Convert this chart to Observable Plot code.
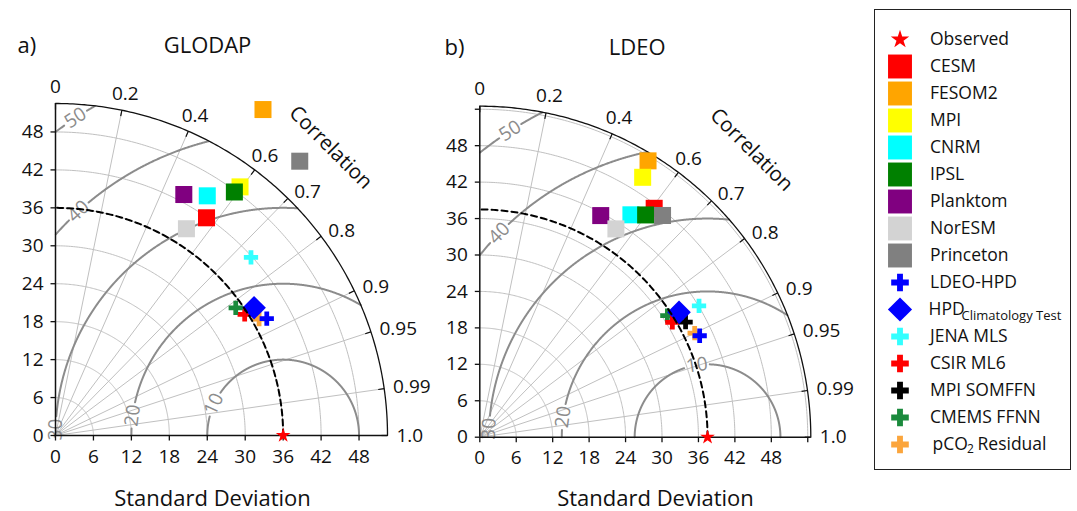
<!DOCTYPE html>
<html><head><meta charset="utf-8">
<script src="https://cdn.jsdelivr.net/npm/d3@7"></script>
<script src="https://cdn.jsdelivr.net/npm/@observablehq/plot@0.6"></script>
<style>
body{margin:0;background:#fff;}
#root{position:relative;width:1077px;height:511px;overflow:hidden;}
#pa{position:absolute;left:0;top:0;}
#pb{position:absolute;left:430px;top:0;}
#leg{position:absolute;left:874px;top:9px;border:1.5px solid #222;background:#fff;}
svg{overflow:visible;}
</style></head><body>
<div id="root"><div id="pa"></div><div id="pb"></div><div id="leg"></div></div>
<script>
// ---- data ----
const names = ["Observed","CESM","FESOM2","MPI","CNRM","IPSL","Planktom","NorESM","Princeton","LDEO-HPD","HPD","JENA MLS","CSIR ML6","MPI SOMFFN","CMEMS FFNN","pCO2 Residual"];
const colors = ["#ff0000","#ff0000","#ffa500","#ffff00","#00ffff","#008000","#800080","#d3d3d3","#808080","#0000ff","#0000ff","#33ffff","#ff0000","#000000","#1a8a3c","#fba53c"];
const shapes = ["star","square","square","square","square","square","square","square","square","cross","diamond","cross","cross","cross","cross","cross"];
// GLODAP panel: standard deviation and correlation
const stdA  = [36.0, 41.90, 61.10, 48.96, 44.86, 47.78, 43.17, 38.70, 58.08, 38.18, 37.34, 41.83, 35.53, 36.89, 34.93, 37.09];
const corrA = [1.000, 0.570, 0.537, 0.596, 0.535, 0.592, 0.470, 0.535, 0.665, 0.875, 0.841, 0.739, 0.842, 0.840, 0.816, 0.868];
// LDEO panel
const stdB  = [37.5, 47.38, 53.27, 50.50, 44.27, 45.66, 41.57, 40.97, 47.31, 39.87, 38.73, 42.07, 36.91, 38.81, 36.81, 39.31];
const corrB = [1.000, 0.606, 0.520, 0.531, 0.562, 0.598, 0.479, 0.547, 0.636, 0.908, 0.847, 0.858, 0.859, 0.873, 0.839, 0.900];
// drawing order (later = on top)
const orderA = [1,2,3,4,5,6,7,8,12,14,13,15,11,10,9];
const orderB = [1,2,3,4,5,6,7,8,14,12,13,15,11,10,9];
const corrTicks = [0, 0.2, 0.4, 0.6, 0.7, 0.8, 0.9, 0.95, 0.99, 1.0];
const corrLines = [0.2, 0.4, 0.6, 0.7, 0.8, 0.9, 0.95, 0.99];
const stdTicksA = [0, 6, 12, 18, 24, 30, 36, 42, 48];
const stdTicksB = [0, 6, 12, 18, 24, 30, 36, 42, 48, 54];
const rmsRadius = [12, 24, 36, 48, 60];
const rmsLabels = ["10", "20", "30", "40", "50"];

const FONT = "'Open Sans', 'Noto Sans', sans-serif";
const TFONT = "'Open Sans', sans-serif";
const symbolOf = s => s === "diamond" ? d3.symbolDiamond2 : s;
const sizePanel = {star: 4.6, square: 9.6, cross: 6.0, diamond: 10.6};
const sizeLegend = {star: 5.8, square: 13.5, cross: 7.4, diamond: 10.9};
const rad = Math.PI / 180;

function panel(cfg) {
  const {std, corr, obs, max, gridStd, ticks, order, W, H, ml, mt, mr, mb,
         tag, title, tagDx, titleDx, sdDx, sdDy, rmsPhi, corrTitle} = cfg;
  const k = (W - ml - mr) / max;
  const pts = names.map((n, i) => ({i, name: n, color: colors[i], shape: shapes[i],
    x: std[i] * corr[i], y: std[i] * Math.sqrt(Math.max(0, 1 - corr[i] * corr[i]))}));
  const grid = [];
  gridStd.forEach(s => { for (let j = 0; j <= 180; j++) { const t = j * rad / 2; grid.push({s, x: s * Math.cos(t), y: s * Math.sin(t)}); } });
  const outer = d3.range(0, 181).map(j => ({x: max * Math.cos(j * rad / 2), y: max * Math.sin(j * rad / 2)}));
  const dashed = d3.range(0, 181).map(j => ({x: obs * Math.cos(j * rad / 2), y: obs * Math.sin(j * rad / 2)}));
  const radials = corrLines.map(c => ({x2: max * c, y2: max * Math.sqrt(1 - c * c)}));
  const rms = [];
  const rmsText = [];
  rmsRadius.forEach((R, li) => {
    const p0 = rmsPhi[li] * rad, gap = 13 / (R * k);
    for (let j = 0; j <= 1440; j++) {
      const p = j * Math.PI / 1440, x = obs + R * Math.cos(p), y = R * Math.sin(p);
      const ok = x >= 0 && y >= 0 && Math.hypot(x, y) <= max && Math.abs(p - p0) > gap;
      rms.push({R, x: ok ? x : NaN, y: ok ? y : NaN});
    }
    rmsText.push({x: obs + R * Math.cos(p0), y: R * Math.sin(p0), text: rmsLabels[li], rot: -(rmsPhi[li] - 90)});
  });
  const ct = corrTicks.map(c => {
    const s = Math.sqrt(Math.max(0, 1 - c * c));
    const mid = Math.acos(c) > 50 * rad;
    const rl = max + (mid ? 17 : 9) / k;
    return {c, s, mid, lx: rl * c, ly: rl * s, text: String(c === 1 ? "1.0" : c)};
  });
  const tfmt = d => d > 48 ? "" : String(d);
  const marks = [
    Plot.line(grid, {x: "x", y: "y", z: "s", stroke: "#c0c0c0", strokeWidth: 1}),
    Plot.link(radials, {x1: 0, y1: 0, x2: "x2", y2: "y2", stroke: "#c0c0c0", strokeWidth: 1}),
    Plot.line(rms, {x: "x", y: "y", z: "R", stroke: "#8c8c8c", strokeWidth: 2}),
    Plot.text(rmsText, {x: "x", y: "y", text: "text", rotate: "rot", fill: "#8c8c8c", fontSize: 19, fontFamily: TFONT}),
    Plot.line(outer, {x: "x", y: "y", stroke: "#111", strokeWidth: 1.3}),
    Plot.ruleY([0], {x1: 0, x2: max, stroke: "#111", strokeWidth: 1.5}),
    Plot.ruleX([0], {y1: 0, y2: max, stroke: "#111", strokeWidth: 1.5}),
    // std-dev ticks and labels
    Plot.link(ticks, {x1: d => d, x2: d => d, y1: 0, y2: -5 / k, stroke: "#111", strokeWidth: 1.3}),
    Plot.link(ticks, {y1: d => d, y2: d => d, x1: 0, x2: -5 / k, stroke: "#111", strokeWidth: 1.3}),
    Plot.text(ticks, {x: d => d, y: () => 0, dy: 21, text: tfmt, textAnchor: "middle", fontSize: 19, fontFamily: TFONT}),
    Plot.text(ticks, {x: () => 0, y: d => d, dx: -12, text: tfmt, textAnchor: "end", fontSize: 19, fontFamily: TFONT}),
    Plot.link(ct, {x1: d => max * d.c, y1: d => max * d.s, x2: d => (max - 6 / k) * d.c, y2: d => (max - 6 / k) * d.s, stroke: "#111", strokeWidth: 1.2}),
    Plot.text(ct.filter(d => d.mid), {x: "lx", y: "ly", text: "text", textAnchor: "middle", fontSize: 19, fontFamily: TFONT}),
    Plot.text(ct.filter(d => !d.mid), {x: "lx", y: "ly", text: "text", textAnchor: "start", fontSize: 19, fontFamily: TFONT}),
    Plot.text([corrTitle], {x: d => d.r * max * Math.cos(d.a * rad), y: d => d.r * max * Math.sin(d.a * rad), text: () => "Correlation", rotate: 45, fontSize: 20.5})
  ];
  order.forEach(i => {
    const p = pts[i];
    marks.push(Plot.dot([p], {x: "x", y: "y", symbol: symbolOf(p.shape), fill: p.color, r: sizePanel[p.shape]}));
  });
  marks.push(Plot.line(dashed, {x: "x", y: "y", stroke: "#000", strokeWidth: 2, strokeDasharray: "6,4"}));
  marks.push(Plot.dot([pts[0]], {x: "x", y: "y", symbol: "star", fill: colors[0], r: sizePanel.star}));
  marks.push(Plot.text([tag], {frameAnchor: "top-left", dx: tagDx, dy: -58, textAnchor: "start", lineAnchor: "middle", fontSize: 22}));
  marks.push(Plot.text([title], {frameAnchor: "top-left", dx: titleDx, dy: -58, textAnchor: "middle", lineAnchor: "middle", fontSize: 22}));
  marks.push(Plot.text(["Standard Deviation"], {frameAnchor: "bottom-left", dx: sdDx, dy: sdDy, textAnchor: "middle", lineAnchor: "middle", fontSize: 22}));
  return Plot.plot({
    width: W, height: H, marginLeft: ml, marginRight: mr, marginTop: mt, marginBottom: mb,
    x: {domain: [0, max], axis: null}, y: {domain: [0, max], axis: null},
    style: {fontFamily: FONT, fontSize: "17px", background: "transparent", overflow: "visible", color: "#111"},
    marks
  });
}

document.getElementById("pa").append(panel({
  std: stdA, corr: corrA, obs: 36, max: 52.5, gridStd: [6, 12, 18, 24, 30, 36, 42, 48], ticks: stdTicksA, order: orderA,
  W: 445, H: 511, ml: 55, mt: 103, mr: 58, mb: 76,
  tag: "a)", title: "GLODAP", tagDx: -38, titleDx: 152, sdDx: 157, sdDy: 63,
  rmsPhi: [155.6, 172.4, 178.5, 132.4, 123.2], corrTitle: {r: 1.2, a: 46.3}
}));
document.getElementById("pb").append(panel({
  std: stdB, corr: corrB, obs: 37.5, max: 54.5, gridStd: [6, 12, 18, 24, 30, 36, 42, 48, 54], ticks: stdTicksB, order: orderB,
  W: 441, H: 511, ml: 49.3, mt: 105.7, mr: 60.7, mb: 74.3,
  tag: "b)", title: "LDEO", tagDx: -35.3, titleDx: 157.4, sdDx: 175.7, sdDy: 61.3,
  rmsPhi: [98.5, 172.0, 177.8, 135.6, 122.8], corrTitle: {r: 1.195, a: 46.6}
}));

// ---- legend ----
const legRows = names.map((n, i) => ({name: n, i, color: colors[i], shape: shapes[i]}));
const legMarks = [];
legRows.forEach(d => legMarks.push(Plot.dot([d], {x: () => 24.5, y: "name", symbol: symbolOf(d.shape), fill: d.color, r: sizeLegend[d.shape]})));
const plainRows = legRows.filter(d => d.name !== "HPD" && d.name !== "pCO2 Residual");
legMarks.push(Plot.text(plainRows, {x: () => 54.5, y: "name", text: "name", textAnchor: "start", fontSize: 17.5}));
legMarks.push(Plot.text(["HPD"], {x: () => 53, y: d => d, text: d => d, textAnchor: "start", fontSize: 17.5}));
legMarks.push(Plot.text(["HPD"], {x: () => 86, y: d => d, dy: 6, text: () => "Climatology Test", textAnchor: "start", fontSize: 13}));
legMarks.push(Plot.text(["pCO2 Residual"], {x: () => 57, y: d => d, text: () => "pCO", textAnchor: "start", fontSize: 17.5}));
legMarks.push(Plot.text(["pCO2 Residual"], {x: () => 91.5, y: d => d, dy: 5, text: () => "2", textAnchor: "start", fontSize: 12}));
legMarks.push(Plot.text(["pCO2 Residual"], {x: () => 102, y: d => d, text: () => "Residual", textAnchor: "start", fontSize: 17.5}));
document.getElementById("leg").append(Plot.plot({
  width: 195, height: 459, margin: 0,
  x: {domain: [0, 195], range: [0, 195], axis: null},
  y: {type: "point", domain: names, range: [15.5, 447.5], axis: null},
  style: {fontFamily: FONT, fontSize: "17.5px", background: "transparent", color: "#111"},
  marks: legMarks
}));
</script>
</body></html>
